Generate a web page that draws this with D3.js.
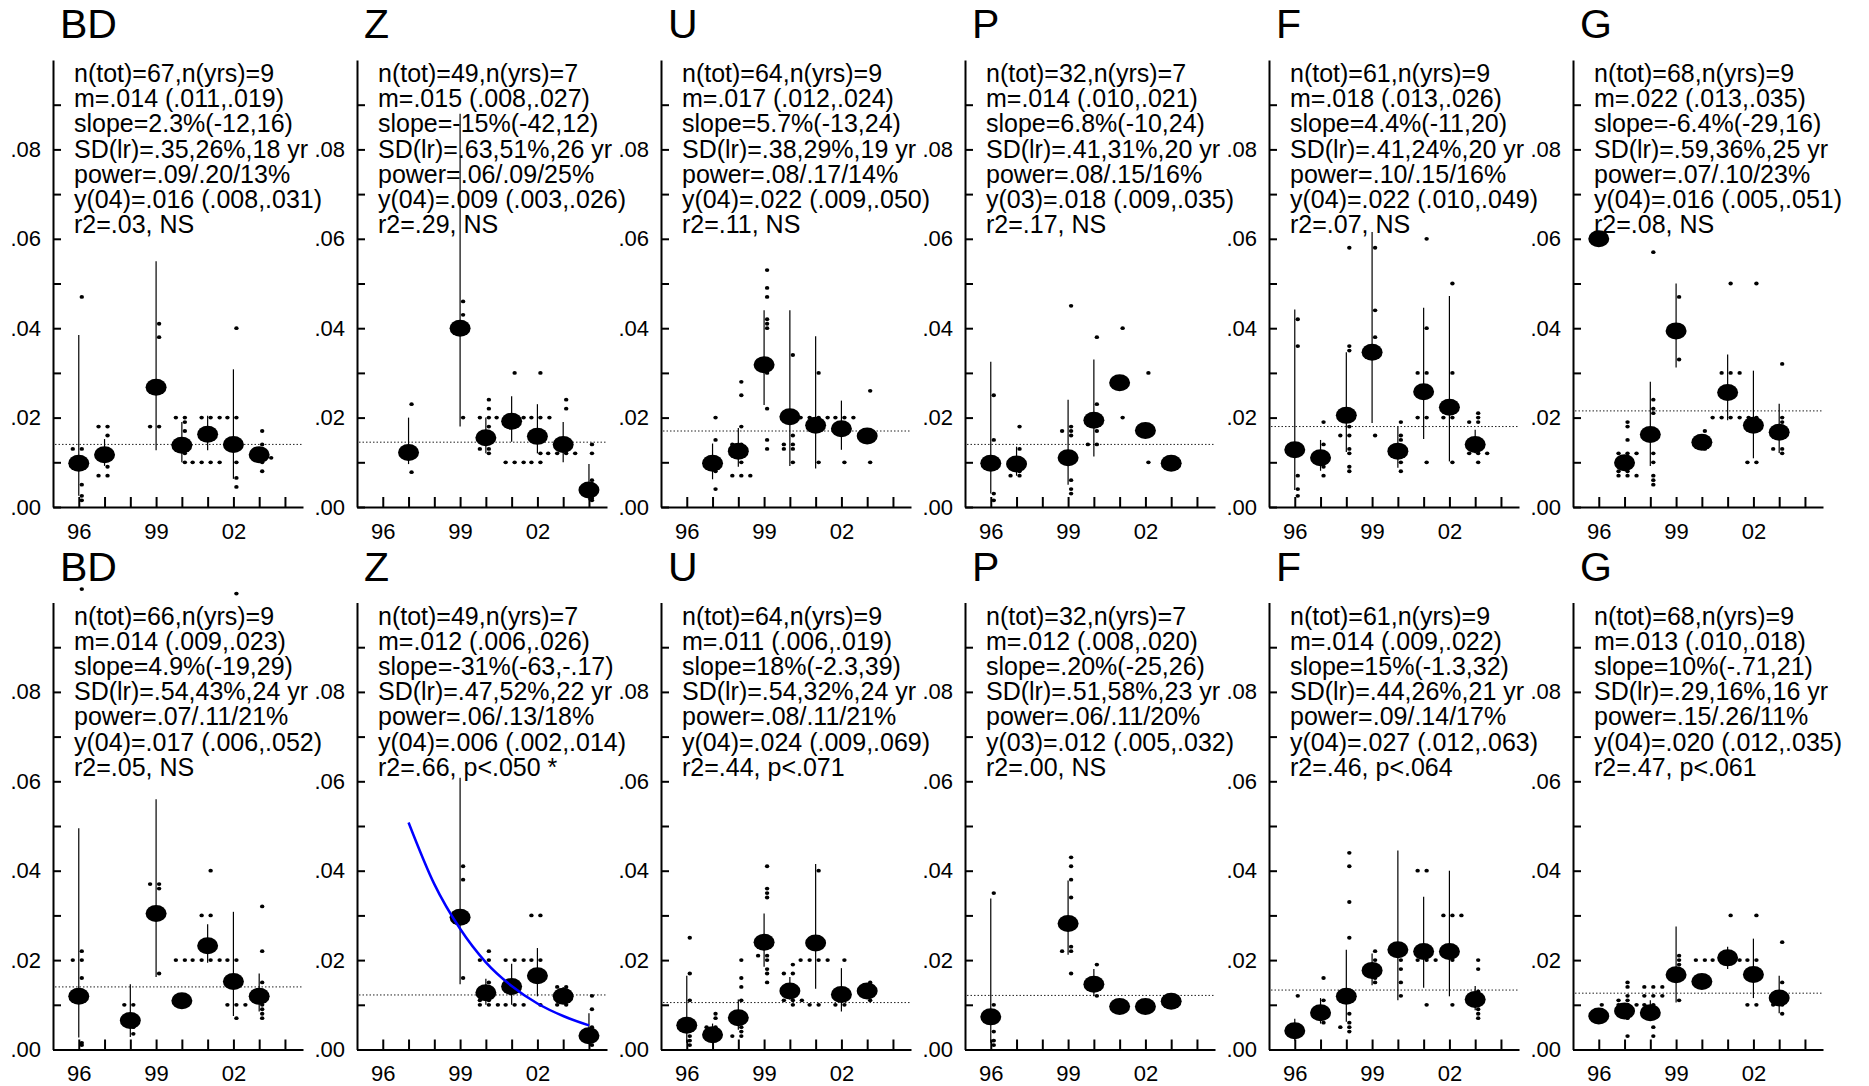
<!DOCTYPE html>
<html><head><meta charset="utf-8">
<script src="https://cdn.jsdelivr.net/npm/d3@7"></script>
<style>
body{margin:0;background:#fff}
svg text{font-family:"Liberation Sans",Arial,Helvetica,sans-serif;fill:#000}
</style>
</head><body>
<svg id="c" width="1869" height="1086"></svg>
<script>
// ---------- axes / labels ----------
const years = [96,97,98,99,100,101,102,103,104];
const xLabelYears = [96,99,102];
const xTickLabels = ["96","99","02"];
const yTickValues = [0,0.01,0.02,0.03,0.04,0.05,0.06,0.07,0.08,0.09];
const yLabelValues = [0,0.02,0.04,0.06,0.08];
const yTickLabels = [".00",".02",".04",".06",".08"];
const panelTitles = ["BD","Z","U","P","F","G"];

// ---------- stats text ----------
const statsTop = [
 ["n(tot)=67,n(yrs)=9","m=.014 (.011,.019)","slope=2.3%(-12,16)","SD(lr)=.35,26%,18 yr","power=.09/.20/13%","y(04)=.016 (.008,.031)","r2=.03, NS"],
 ["n(tot)=49,n(yrs)=7","m=.015 (.008,.027)","slope=-15%(-42,12)","SD(lr)=.63,51%,26 yr","power=.06/.09/25%","y(04)=.009 (.003,.026)","r2=.29, NS"],
 ["n(tot)=64,n(yrs)=9","m=.017 (.012,.024)","slope=5.7%(-13,24)","SD(lr)=.38,29%,19 yr","power=.08/.17/14%","y(04)=.022 (.009,.050)","r2=.11, NS"],
 ["n(tot)=32,n(yrs)=7","m=.014 (.010,.021)","slope=6.8%(-10,24)","SD(lr)=.41,31%,20 yr","power=.08/.15/16%","y(03)=.018 (.009,.035)","r2=.17, NS"],
 ["n(tot)=61,n(yrs)=9","m=.018 (.013,.026)","slope=4.4%(-11,20)","SD(lr)=.41,24%,20 yr","power=.10/.15/16%","y(04)=.022 (.010,.049)","r2=.07, NS"],
 ["n(tot)=68,n(yrs)=9","m=.022 (.013,.035)","slope=-6.4%(-29,16)","SD(lr)=.59,36%,25 yr","power=.07/.10/23%","y(04)=.016 (.005,.051)","r2=.08, NS"]
];
const statsBottom = [
 ["n(tot)=66,n(yrs)=9","m=.014 (.009,.023)","slope=4.9%(-19,29)","SD(lr)=.54,43%,24 yr","power=.07/.11/21%","y(04)=.017 (.006,.052)","r2=.05, NS"],
 ["n(tot)=49,n(yrs)=7","m=.012 (.006,.026)","slope=-31%(-63,-.17)","SD(lr)=.47,52%,22 yr","power=.06/.13/18%","y(04)=.006 (.002,.014)","r2=.66, p<.050 *"],
 ["n(tot)=64,n(yrs)=9","m=.011 (.006,.019)","slope=18%(-2.3,39)","SD(lr)=.54,32%,24 yr","power=.08/.11/21%","y(04)=.024 (.009,.069)","r2=.44, p<.071"],
 ["n(tot)=32,n(yrs)=7","m=.012 (.008,.020)","slope=.20%(-25,26)","SD(lr)=.51,58%,23 yr","power=.06/.11/20%","y(03)=.012 (.005,.032)","r2=.00, NS"],
 ["n(tot)=61,n(yrs)=9","m=.014 (.009,.022)","slope=15%(-1.3,32)","SD(lr)=.44,26%,21 yr","power=.09/.14/17%","y(04)=.027 (.012,.063)","r2=.46, p<.064"],
 ["n(tot)=68,n(yrs)=9","m=.013 (.010,.018)","slope=10%(-.71,21)","SD(lr)=.29,16%,16 yr","power=.15/.26/11%","y(04)=.020 (.012,.035)","r2=.47, p<.061"]
];

// dotted reference line (overall mean) per panel
const meanLineTop = [0.014,0.0145,0.017,0.014,0.018,0.0215];
const meanLineBottom = [0.014,0.0122,0.0105,0.0121,0.0133,0.0126];

// ---------- annual means: [year, mean, lo, hi] ----------
const BD1_means = [[96,.0098,.0025,.0385],[97,.0117,.0092,.0152],[99,.0268,.0127,.055],[100,.0138,.010,.019],[101,.0163,.0127,.0204],[102,.014,.0063,.0308],[103,.0117,.011,.013]];
const Z1_means = [[97,.0122,.0096,.020],[99,.040,.018,.088],[100,.0155,.012,.020],[101,.0192,.0146,.0248],[102,.0158,.012,.023],[103,.014,.010,.019],[104,.0038,.0015,.0096]];
const U1_means = [[97,.0098,.0062,.0142],[98,.0125,.009,.0177],[99,.0318,.0228,.044],[100,.0202,.0092,.044],[101,.0183,.0086,.0382],[102,.0175,.0128,.0238],[103,.0159,null,null]];
const P1_means = [[96,.0098,.003,.0325],[97,.0096,.007,.0135],[99,.011,.005,.024],[100,.0194,.0113,.033],[101,.0278,null,null],[102,.0171,null,null],[103,.0098,null,null]];
const F1_means = [[96,.0128,.0038,.0442],[97,.011,.0081,.015],[98,.0205,.0123,.0346],[99,.0346,.0188,.0615],[100,.0125,.0088,.018],[101,.0258,.0152,.0446],[102,.0223,.0102,.0472],[103,.014,.012,.0173]];
const G1_means = [[96,.060,null,null],[97,.0099,.0088,.0115],[98,.0162,.0092,.028],[99,.0394,.0312,.050],[100,.0145,null,null],[101,.0256,.0194,.0341],[102,.0183,.0109,.0305],[103,.0167,.0121,.0231]];
const BD2_means = [[96,.0119,.0027,.0495],[98,.0065,.0028,.0146],[99,.0304,.0162,.056],[100,.0109,null,null],[101,.0232,.0194,.028],[102,.0152,.0075,.0308],[103,.0119,.0085,.017]];
const Z2_means = [[99,.0296,.0146,.0608],[100,.0127,.010,.0158],[101,.0141,.010,.0192],[102,.0165,.0119,.0227],[103,.0119,.0105,.014],[104,.0031,.0015,.0081]];
const U2_means = [[96,.0054,.0015,.0165],[97,.0033,.0015,.0058],[98,.0071,.0044,.0112],[99,.024,.0185,.0304],[100,.0131,.0112,.0162],[101,.0238,.0136,.0415],[102,.0123,.0085,.0182],[103,.0131,null,null]];
const P2_means = [[96,.0073,.0015,.0338],[99,.0282,.0212,.0378],[100,.0146,.0119,.018],[101,.0096,null,null],[102,.0096,null,null],[103,.0108,null,null]];
const F2_means = [[96,.0042,.002,.0069],[97,.0082,.0058,.0115],[98,.0119,.0062,.0223],[99,.0177,.0144,.0215],[100,.0223,.011,.0445],[101,.0219,.0138,.0342],[102,.0219,.0119,.040],[103,.0112,.0088,.0142]];
const G2_means = [[96,.0075,null,null],[97,.0086,.0078,.0095],[98,.0082,.007,.011],[99,.0167,.0105,.0275],[100,.0152,null,null],[101,.0205,.018,.023],[102,.0168,.0115,.0248],[103,.0115,.0081,.0165]];

// ---------- individual observations: [year, values] ----------
const BD1_dots = [[96,[.047,.013,.013,.005,.0025,.0015]],[97,[.018,.018,.016,.012,.009,.007,.007]],[99,[.041,.038,.018,.018]],[100,[.020,.020,.019,.017,.012,.010]],[101,[.020,.020,.020,.010,.010,.010,.010]],[102,[.040,.020,.020,.010,.0065,.0045]],[103,[.017,.014,.012,.011,.011,.011,.010,.008]]];
const Z1_dots = [[97,[.023,.0122,.0122,.0078]],[99,[.046,.043,.020]],[100,[.024,.022,.020,.020,.018,.013,.013,.012]],[101,[.030,.020,.020,.020,.020,.010,.010,.010]],[102,[.030,.020,.020,.020,.010,.010,.012]],[103,[.024,.022,.012,.012,.012,.012]],[104,[.014,.012,.006,.005,.002,.0015]]];
const U1_dots = [[97,[.020,.015,.010,.008,.004]],[98,[.028,.025,.018,.014,.014,.010,.007,.007,.007]],[99,[.053,.049,.047,.042,.041,.040,.030,.022,.015,.013]],[100,[.034,.016,.014,.014,.013,.013,.010]],[101,[.030,.020,.020,.020,.020,.010]],[102,[.020,.020,.020,.010]],[103,[.026,.010]]];
const P1_dots = [[96,[.025,.015,.009,.003,.0015]],[97,[.018,.013,.009,.008,.007,.007]],[99,[.045,.018,.017,.017,.016,.006,.004,.003]],[100,[.038,.023,.017,.014,.014]],[101,[.040,.020]],[102,[.030,.010]]];
const F1_dots = [[96,[.042,.036,.007,.004,.0025]],[97,[.019,.014,.011,.009,.007]],[98,[.058,.036,.035,.018,.016,.016,.013,.012,.009,.008]],[99,[.058,.044,.038,.016]],[100,[.019,.016,.015,.013,.010,.008]],[101,[.060,.040,.030,.030,.020,.020,.010]],[102,[.050,.030,.020,.020,.010]],[103,[.021,.020,.019,.019,.012,.012,.012,.010]]];
const G1_dots = [[97,[.019,.018,.015,.012,.012,.012,.008,.008,.007,.007,.007]],[98,[.057,.024,.022,.021,.016,.012,.010,.007,.006,.005]],[99,[.047,.033]],[100,[.017,.013]],[101,[.050,.030,.030,.030,.020,.020,.020,.020,.020]],[102,[.050,.020,.010,.010]],[103,[.032,.020,.019,.013,.013,.012]]];
const BD2_dots = [[96,[.103,.022,.020,.020,.016,.0015,.001]],[98,[.010,.010,.005,.0035]],[99,[.037,.037,.036,.017]],[100,[.020,.020,.011]],[101,[.040,.030,.030,.020,.020,.020,.020]],[102,[.102,.020,.020,.010,.010,.010,.007]],[103,[.032,.022,.015,.012,.010,.009,.008,.007]]];
const Z2_dots = [[99,[.041,.038,.016]],[100,[.022,.020,.020,.015,.011,.011,.010,.010,.010]],[101,[.020,.020,.020,.010,.010,.010]],[102,[.030,.030,.020,.020,.010]],[103,[.014,.014,.012,.010,.010]],[104,[.012,.009,.005,.002,.001]]];
const U2_dots = [[96,[.025,.017,.011,.003,.002,.001]],[97,[.008,.007,.005,.005,.002]],[98,[.020,.016,.014,.011,.005,.004,.003,.003]],[99,[.041,.036,.035,.034,.021,.021,.020,.018,.017,.015]],[100,[.019,.017,.017,.011,.011,.011,.010]],[101,[.040,.020,.020,.020,.020,.010,.010]],[102,[.020,.010,.010]],[103,[.015,.011]]];
const P2_dots = [[96,[.035,.010,.004,.002,.001]],[99,[.043,.041,.038,.034,.023,.022,.022,.017]],[100,[.019,.012]]];
const F2_dots = [[96,[.012,.005,.005,.004,.003]],[97,[.016,.011,.009,.008,.007,.006]],[98,[.044,.041,.033,.025,.008,.006,.005,.005,.004]],[99,[.022,.020,.016,.015]],[100,[.020,.018,.015,.012]],[101,[.040,.040,.020,.020,.020,.010]],[102,[.030,.030,.030,.020,.010]],[103,[.020,.018,.013,.011,.009,.008,.007]]];
const G2_dots = [[96,[.010]],[97,[.015,.014,.012,.011,.011,.010,.010,.010,.009,.007,.003]],[98,[.014,.014,.014,.012,.012,.012,.010,.010,.009,.007,.005,.003]],[99,[.021,.020,.019,.018,.011]],[100,[.020,.020]],[101,[.030,.020,.020,.020,.020]],[102,[.030,.020,.020,.010,.010]],[103,[.024,.015,.010,.010,.008]]];

// fitted trend (Z, bottom row)
const Z2_trend = [[97,.0508],[98,.037],[99,.027],[100,.0195],[101,.0142],[102,.0103],[103,.0075],[104,.0054]];

const meansTop = [BD1_means,Z1_means,U1_means,P1_means,F1_means,G1_means];
const meansBottom = [BD2_means,Z2_means,U2_means,P2_means,F2_means,G2_means];
const dotsTop = [BD1_dots,Z1_dots,U1_dots,P1_dots,F1_dots,G1_dots];
const dotsBottom = [BD2_dots,Z2_dots,U2_dots,P2_dots,F2_dots,G2_dots];

// ---------- layout ----------
const svg = d3.select("#c");
const colX0 = 53, colStep = 304, rowStep = 542.5;
const plotW = 250, yZero = 507, yTopPix = 60;

function panel(r, c) {
  const ox = colX0 + c * colStep, oy = r * rowStep;
  const x = d3.scaleLinear().domain([95, 104.7]).range([ox, ox + plotW]);
  const y = d3.scaleLinear().domain([0, 0.1]).range([oy + yZero, oy + yTopPix]);
  const g = svg.append("g");

  // title
  g.append("text").attr("x", ox + 7).attr("y", oy + 38)
    .style("font-size", "41px").text(panelTitles[c]);

  // y axis
  const ya = g.append("g").attr("transform", `translate(${ox},0)`)
    .call(d3.axisLeft(y).tickValues(yTickValues).tickSize(-8).tickSizeOuter(0).tickPadding(12)
      .tickFormat(d => { const i = yLabelValues.findIndex(v => Math.abs(v - d) < 1e-9); return i >= 0 ? yTickLabels[i] : ""; }));
  // x axis
  const xa = g.append("g").attr("transform", `translate(0,${oy + yZero})`)
    .call(d3.axisBottom(x).tickValues(years).tickSize(-10).tickSizeOuter(0).tickPadding(16)
      .tickFormat(d => { const i = xLabelYears.indexOf(d); return i >= 0 ? xTickLabels[i] : ""; }));
  [ya, xa].forEach(a => {
    a.selectAll("path,line").attr("stroke", "#000").attr("stroke-width", 2);
    a.selectAll("text").style("font-size", "22px").attr("fill", "#000")
      .style("font-family", '"Liberation Sans",Arial,Helvetica,sans-serif');
  });

  // mean reference line
  const mref = (r === 0 ? meanLineTop : meanLineBottom)[c];
  g.append("line").attr("x1", ox + 2).attr("x2", ox + plotW)
    .attr("y1", y(mref)).attr("y2", y(mref))
    .attr("stroke", "#222").attr("stroke-width", 1).attr("stroke-dasharray", "1.5,2");

  // stats text
  const stats = (r === 0 ? statsTop : statsBottom)[c];
  const tx = g.append("text").attr("x", ox + 21).attr("y", oy + 82).style("font-size", "25px");
  stats.forEach((s, i) => tx.append("tspan").attr("x", ox + 21).attr("dy", i === 0 ? 0 : 25.2).text(s));

  // individual observations (ties spread horizontally)
  const dots = (r === 0 ? dotsTop : dotsBottom)[c];
  const seq = [0, -1, 1, -2, 2, -3, 3];
  const pts = [];
  dots.forEach(([yr, vals]) => {
    const seen = {};
    vals.forEach(v => {
      const k = v.toFixed(4); seen[k] = (seen[k] || 0);
      pts.push({ yr, v, j: seq[seen[k]] }); seen[k]++;
    });
  });
  g.selectAll(".dot").data(pts).enter().append("ellipse")
    .attr("cx", d => x(d.yr) + 3 + 9 * d.j).attr("cy", d => y(d.v))
    .attr("rx", 2.2).attr("ry", 1.9).attr("fill", "#000");

  // CI lines and annual means
  const means = (r === 0 ? meansTop : meansBottom)[c];
  g.selectAll(".ci").data(means.filter(d => d[2] != null)).enter().append("line")
    .attr("x1", d => x(d[0])).attr("x2", d => x(d[0]))
    .attr("y1", d => y(d[2])).attr("y2", d => y(d[3]))
    .attr("stroke", "#000").attr("stroke-width", 1.2);
  g.selectAll(".mean").data(means).enter().append("ellipse")
    .attr("cx", d => x(d[0])).attr("cy", d => y(d[1]))
    .attr("rx", 10.5).attr("ry", 8.5).attr("fill", "#000");

  // fitted trend
  if (r === 1 && c === 1) {
    g.append("path").datum(Z2_trend)
      .attr("d", d3.line().x(d => x(d[0])).y(d => y(d[1])).curve(d3.curveMonotoneX))
      .attr("fill", "none").attr("stroke", "#0000ff").attr("stroke-width", 2.5);
  }
}

for (let r = 0; r < 2; r++) for (let c = 0; c < 6; c++) panel(r, c);
</script>
</body></html>
